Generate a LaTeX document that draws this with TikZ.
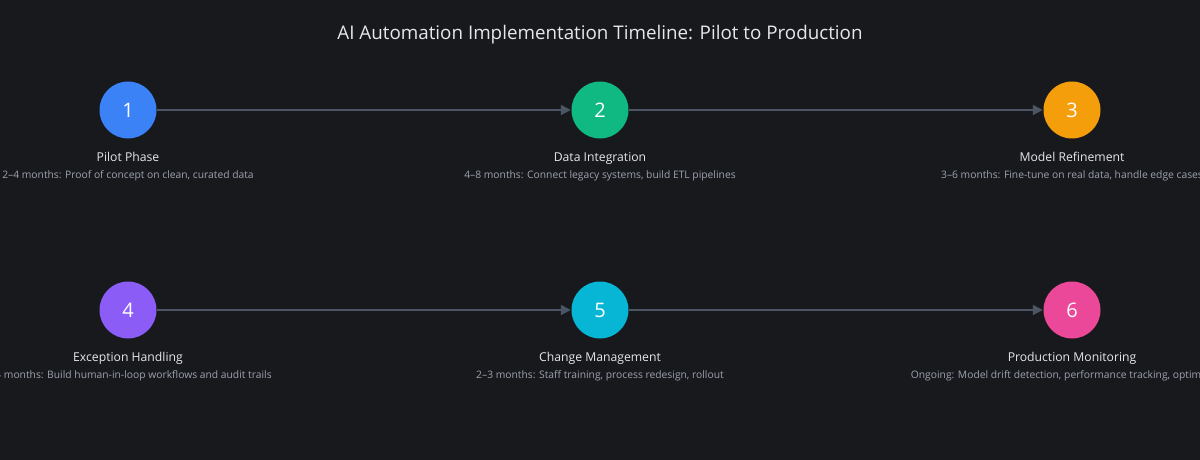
\documentclass[tikz,border=0pt]{standalone}
\usepackage{fontspec}
\setmainfont{Open Sans}
\usetikzlibrary{arrows.meta}
\definecolor{bg}{HTML}{18191D}
\definecolor{linec}{HTML}{4B5563}
\definecolor{titlec}{HTML}{E5E7EB}
\definecolor{descc}{HTML}{9CA3AF}
\definecolor{cA}{HTML}{3B82F6}
\definecolor{cB}{HTML}{10B981}
\definecolor{cC}{HTML}{F59E0B}
\definecolor{cD}{HTML}{8B5CF6}
\definecolor{cE}{HTML}{06B6D4}
\definecolor{cF}{HTML}{EC4899}
\tikzset{
  stepdot/.style={circle, minimum size=57pt, inner sep=0pt, text=white,
    font=\fontsize{20}{24}\selectfont},
  steptitle/.style={text=titlec, font=\fontsize{12.2}{14}\selectfont, inner sep=0pt, anchor=base},
  stepdesc/.style={text=descc, font=\fontsize{10.3}{12}\selectfont, inner sep=0pt, anchor=base},
  conn/.style={draw=linec, line width=1.8pt, -{Triangle[length=10pt,width=10pt]}, shorten >=0.5pt},
}
\begin{document}
\begin{tikzpicture}[x=1pt,y=1pt]
\useasboundingbox (0,0) rectangle (1200,-460);
\clip (0,0) rectangle (1200,-460);
\fill[bg] (0,0) rectangle (1200,-460);
\node[text=titlec, font=\fontsize{18.8}{22}\selectfont, inner sep=0pt] (title) at (600,-35) {AI Automation Implementation Timeline: Pilot to Production};

\node[stepdot, fill=cA] (n1) at (128,-110) {1};
\node[stepdot, fill=cB] (n2) at (600,-110) {2};
\node[stepdot, fill=cC] (n3) at (1072,-110) {3};
\node[stepdot, fill=cD] (n4) at (128,-310) {4};
\node[stepdot, fill=cE] (n5) at (600,-310) {5};
\node[stepdot, fill=cF] (n6) at (1072,-310) {6};

\node[steptitle] (t1) at (128,-161.5) {Pilot Phase};
\node[stepdesc] (d1) at (128,-178) {2–4 months: Proof of concept on clean, curated data};
\node[steptitle] (t2) at (600,-161.5) {Data Integration};
\node[stepdesc] (d2) at (600,-178) {4–8 months: Connect legacy systems, build ETL pipelines};
\node[steptitle] (t3) at (1072,-161.5) {Model Refinement};
\node[stepdesc] (d3) at (1072,-178) {3–6 months: Fine-tune on real data, handle edge cases};
\node[steptitle] (t4) at (128,-361.5) {Exception Handling};
\node[stepdesc] (d4) at (128,-378) {2–4 months: Build human-in-loop workflows and audit trails};
\node[steptitle] (t5) at (600,-361.5) {Change Management};
\node[stepdesc] (d5) at (600,-378) {2–3 months: Staff training, process redesign, rollout};
\node[steptitle] (t6) at (1072,-361.5) {Production Monitoring};
\node[stepdesc] (d6) at (1072,-378) {Ongoing: Model drift detection, performance tracking, optimization};

\draw[conn] (n1) -- (n2);
\draw[conn] (n2) -- (n3);
\draw[conn] (n4) -- (n5);
\draw[conn] (n5) -- (n6);
\end{tikzpicture}
\end{document}
